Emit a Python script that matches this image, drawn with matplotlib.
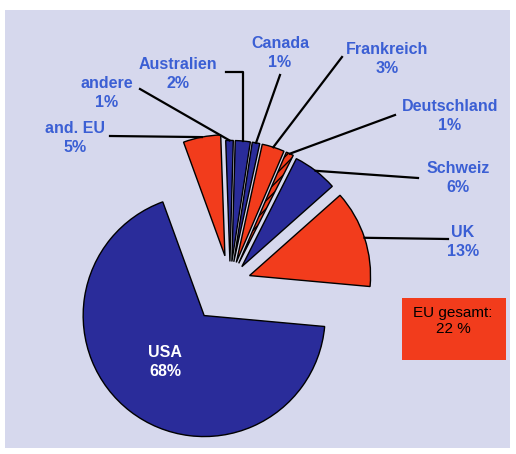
import numpy as np
import matplotlib
matplotlib.use("Agg")
import matplotlib.pyplot as plt
from matplotlib.patches import Rectangle

# --- data ---
countries = ["USA", "UK", "Schweiz", "Deutschland", "Frankreich",
             "Canada", "Australien", "andere", "and. EU"]
shares = [68, 13, 6, 1, 3, 1, 2, 1, 5]
is_eu = [False, True, False, True, True, False, False, False, True]
eu_total = 22

BLUE = "#2a2c9a"
RED = "#f23c1c"
LABEL_BLUE = "#3b5fd4"
BG = "#d6d8ed"

R = 121
# explode given as fraction of the radius (pie() wants absolute units)
explode_frac = [0.35, 0.17, 0.16, 0.17, 0.17, 0.17, 0.17, 0.17, 0.22]

fig = plt.figure(figsize=(5.16, 4.54), dpi=100)
fig.patch.set_facecolor("white")
ax = fig.add_axes([0, 0, 1, 1])

colors = [RED if eu else BLUE for eu in is_eu]
wedges, _ = ax.pie(shares, colors=colors, explode=[e * R for e in explode_frac],
                   startangle=110, counterclock=True, radius=R, center=(230, 172),
                   wedgeprops=dict(edgecolor="black", linewidth=1.0))
for w in wedges:
    w.set_zorder(2)
wedges[3].set_hatch("////")

# pie() resets the limits, so fix the pixel-like frame afterwards
ax.set_xlim(0, 516)
ax.set_ylim(0, 454)
ax.set_aspect("equal")
ax.axis("off")
ax.add_patch(Rectangle((5, 6), 505, 438, facecolor=BG, edgecolor="none", zorder=0))

# --- labels: (text x, text y, leader start x, leader start y) ---
label_pos = {
    "UK": (463, 212, 448, 215),
    "Schweiz": (458, 276, 418, 276),
    "Deutschland": (450, 338, 395, 339),
    "Frankreich": (387, 395, 342, 397),
    "Canada": (280, 401, 280, 379),
    "Australien": (178, 380, 226, 382),
    "andere": (107, 361, 140, 365),
    "and. EU": (75, 316, 110, 318),
}

font = dict(family=["Liberation Sans", "DejaVu Sans"], fontweight="bold",
            fontsize=11.5, linespacing=1.35)

for w, name, val in zip(wedges, countries, shares):
    mid = np.deg2rad((w.theta1 + w.theta2) / 2)
    cx, cy = w.center
    ax_pt = cx + R * np.cos(mid)
    ay_pt = cy + R * np.sin(mid)
    if name == "USA":
        ax.text(165, 92, f"{name}\n{val}%", color="white", ha="center",
                va="center", zorder=5, **font)
        continue
    tx, ty, lx, ly = label_pos[name]
    ax.text(tx, ty, f"{name}\n{val}%", color=LABEL_BLUE, ha="center",
            va="center", zorder=5, **font)
    if name == "Australien":
        ax.plot([lx, ax_pt, ax_pt], [ly, ly, ay_pt], color="black", lw=1.6, zorder=3)
    else:
        ax.plot([lx, ax_pt], [ly, ay_pt], color="black", lw=1.6, zorder=3)

# EU total box
ax.add_patch(Rectangle((402, 94), 104, 62, facecolor=RED, edgecolor="none", zorder=2))
ax.text(453, 133, f"EU gesamt:\n{eu_total} %", color="black", ha="center",
        va="center", zorder=5, family=["Liberation Sans", "DejaVu Sans"],
        fontsize=11, linespacing=1.1)

fig.savefig("out.png", dpi=100, facecolor=fig.get_facecolor())
